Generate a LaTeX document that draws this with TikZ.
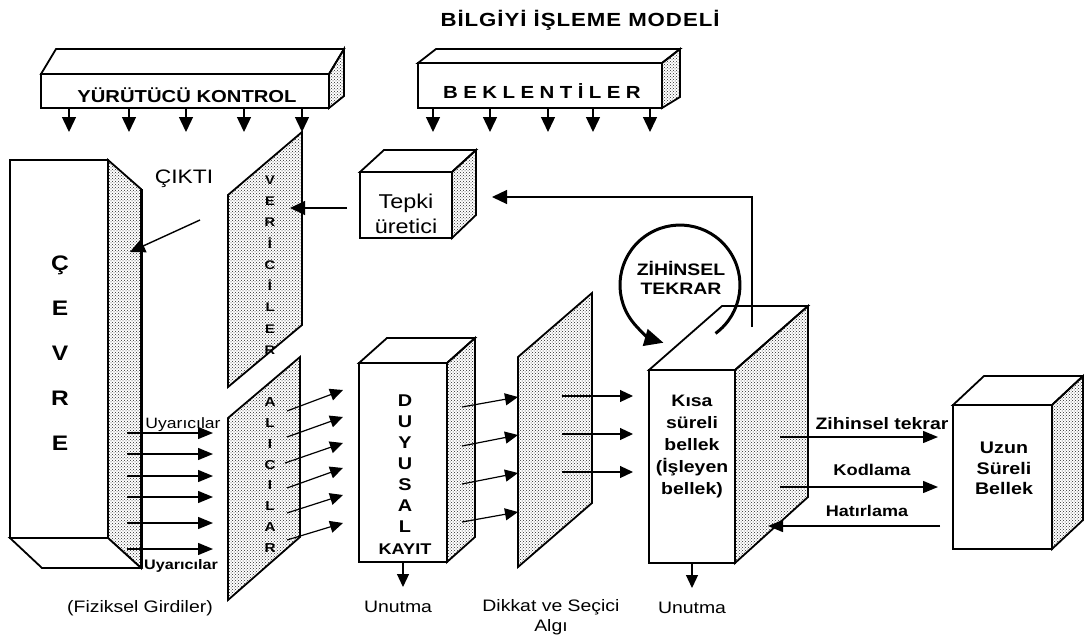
\documentclass[tikz,border=0pt]{standalone}
\usepackage{fontspec}
\setmainfont{Liberation Sans}[FakeStretch=1.17]
\usetikzlibrary{arrows.meta,patterns}

\newcommand\fsz[2]{\fontsize{#1}{#2}\selectfont}
\newcommand\cuboidbox[7]{%
  \filldraw[outl,fill=white] (#1,#2) -- ({#1+#5},{#2+#6}) -- ({#3+#5},{#2+#6}) -- (#3,#2) -- cycle;
  \filldraw[outl,dotfill] (#3,#2) -- ({#3+#5},{#2+#6}) -- ({#3+#5},{#4+#7}) -- (#3,#4) -- cycle;
  \filldraw[outl,fill=white] (#1,#2) rectangle (#3,#4);
}
\newcommand\linkarrow[4][arr]{%
  \coordinate (#2s) at (#3);
  \coordinate (#2e) at (#4);
  \draw[#1] (#2s) -- (#2e);
}

\begin{document}
\begin{tikzpicture}[x=1pt,y=-1pt,
  outl/.style={line width=1.8pt, line join=miter},
  dotfill/.style={pattern=crosshatch dots, pattern color=black!85},
  arr/.style={line width=1.4pt, -{Triangle[length=15pt,width=14pt]}},
  harr/.style={line width=1.4pt, -{Triangle[length=15pt,width=12pt]}},
  sarr/.style={line width=1.2pt, -{Triangle[length=13pt,width=12pt]}},
  t/.style={inner sep=0pt},
  reg/.style={t,font={\fsz{16.6}{20}}},
  bld/.style={t,font={\fsz{16.6}{20}\bfseries}},
]
\useasboundingbox (0,0) rectangle (1084,642);

% title
\node[t,anchor=base,font={\fsz{19}{22}\bfseries\addfontfeatures{LetterSpace=5}}] (title) at (580,27) {BİLGİYİ İŞLEME MODELİ};

% ÇEVRE
\filldraw[outl,dotfill] (108,160) -- (141,189) -- (141,568) -- (108,538) -- cycle;
\filldraw[outl,fill=white] (10,538) -- (108,538) -- (141,568) -- (42,568) -- cycle;
\filldraw[outl,fill=white] (10,160) rectangle (108,538);
\draw[line width=3pt] (141,189) -- (141,568);
\node[t,align=center,font={\fsz{21}{45}\bfseries}] (cevre) at (60,353) {Ç\\E\\V\\R\\E};

% YÜRÜTÜCÜ KONTROL
\cuboidbox{41}{74}{329}{108}{15}{-25}{-12}
\node[t,anchor=base,font={\fsz{17.3}{20}\bfseries}] (yk) at (187,102) {YÜRÜTÜCÜ KONTROL};

% BEKLENTİLER
\cuboidbox{418}{63}{662}{108}{18}{-14}{-11}
\node[t,anchor=base,font={\fsz{17.5}{20}\bfseries\addfontfeatures{LetterSpace=31}}] (bek) at (542,98) {BEKLENTİLER};

% Tepki üretici
\cuboidbox{360}{172}{452}{238}{24}{-22}{-23}
\node[t,align=center,font={\fsz{20}{25}}] (tepki) at (406,213.5) {Tepki\\üretici};

% VERİCİLER panel
\filldraw[outl,dotfill] (228,195) -- (302,132) -- (302,325) -- (228,387) -- cycle;
\node[t,align=center,font={\fsz{12.5}{21.25}\bfseries}] (verici) at (270,265) {V\\E\\R\\İ\\C\\İ\\L\\E\\R};

% ALICILAR panel
\filldraw[outl,dotfill] (228,418) -- (300,357) -- (300,537) -- (228,600) -- cycle;
\node[t,align=center,font={\fsz{13}{20.9}\bfseries}] (alici) at (270,475) {A\\L\\I\\C\\I\\L\\A\\R};

% DUYUSAL KAYIT
\cuboidbox{359}{363}{447}{562}{28}{-25}{-25}
\node[t,align=center,font={\fsz{17}{21}\bfseries}] (duy) at (405,464) {D\\U\\Y\\U\\S\\A\\L};
\node[t,anchor=base,font={\fsz{15.5}{18}\bfseries}] (kayit) at (405,554) {KAYIT};

% DİKKAT panel
\filldraw[outl,dotfill] (518,357) -- (592,293) -- (592,503) -- (518,567) -- cycle;

% Kısa süreli bellek
\cuboidbox{649}{370}{735}{563}{73}{-64}{-66}
\node[t,align=center,font={\fsz{16.6}{22}\bfseries}] (ksb) at (692,447) {Kısa\\süreli\\bellek\\(İşleyen\\bellek)};

% Uzun süreli bellek
\cuboidbox{953}{405}{1052}{549}{31}{-29}{-29}
\node[t,align=center,font={\fsz{16.8}{20.5}\bfseries}] (usb) at (1004,468.5) {Uzun\\Süreli\\Bellek};

% Zihinsel tekrar loop
\coordinate (zts) at (715.5,333.4);
\draw[line width=3pt,-{Triangle[length=19pt,width=17pt]}] (zts) arc[start angle=53.7,end angle=-254,radius=60];
\node[t,align=center,font={\fsz{16.6}{19}\bfseries}] (zt) at (681,278) {ZİHİNSEL\\TEKRAR};

% feedback to Tepki
\coordinate (fba) at (752,327);
\coordinate (fbb) at (752,197);
\coordinate (fbc) at (492,197);
\draw[arr,line width=1.2pt] (fba) -- (fbb) -- (fbc);

% Tepki -> Vericiler
\linkarrow{tv}{347,208}{290,208}

% ÇIKTI
\node[t,anchor=base,font={\fsz{19.5}{22}}] (cikti) at (184,183) {ÇIKTI};
\linkarrow{ck}{200,220}{130,252}

% Yürütücü kontrol arrows
\foreach \x [count=\i] in {69,129,186,244,302} {
  \linkarrow{yka\i}{\x,108}{\x,132}
}
% Beklentiler arrows
\foreach \x [count=\i] in {433,490,548,593,650} {
  \linkarrow{bka\i}{\x,108}{\x,132}
}

% Uyarıcılar
\foreach \y [count=\i] in {433,454,476,497,523,549} {
  \linkarrow[harr]{ua\i}{127,\y}{213,\y}
}
\node[t,anchor=base,font={\fsz{15}{18}}] (uy1) at (183,428) {Uyarıcılar};
\node[t,anchor=base,font={\fsz{13.8}{16}\bfseries}] (uy2) at (181,569) {Uyarıcılar};
\node[reg,anchor=base] (fiz) at (140,612) {(Fiziksel Girdiler)};

% Alıcılar -> Duyusal
\linkarrow[sarr]{ad1}{287,411}{343,390}
\linkarrow[sarr]{ad2}{287,437}{343,417}
\linkarrow[sarr]{ad3}{285,463}{343,443}
\linkarrow[sarr]{ad4}{287,488}{343,468}
\linkarrow[sarr]{ad5}{287,513}{343,495}
\linkarrow[sarr]{ad6}{287,540}{343,523}

% Duyusal -> Dikkat
\linkarrow[sarr]{dd1}{462,407}{518,397}
\linkarrow[sarr]{dd2}{462,446}{518,435}
\linkarrow[sarr]{dd3}{462,484}{518,473}
\linkarrow[sarr]{dd4}{462,522}{518,512}

% Dikkat -> Kısa
\linkarrow[sarr]{dk1}{562,396}{633,396}
\linkarrow[sarr]{dk2}{562,434}{633,434}
\linkarrow[sarr]{dk3}{562,472}{633,472}

% Unutma
\linkarrow[sarr]{un1}{403,562}{403,587}
\node[reg,anchor=base] (unut1) at (398,612) {Unutma};
\linkarrow[sarr]{un2}{692,563}{692,588}
\node[reg,anchor=base] (unut2) at (692,613) {Unutma};

% Dikkat label
\node[t,align=center,font={\fsz{16.6}{20}}] (dik) at (551,617.7) {Dikkat ve Seçici\\Algı};

% Kısa <-> Uzun
\linkarrow[harr]{zh}{780,437}{938,437}
\node[bld,anchor=base] (zhl) at (882,429) {Zihinsel tekrar};
\linkarrow[harr]{kd}{780,487}{938,487}
\node[t,anchor=base,font={\fsz{15.6}{18}\bfseries}] (kdl) at (872,475) {Kodlama};
\linkarrow[harr]{ht}{940,526}{768,526}
\node[t,anchor=base,font={\fsz{15.4}{18}\bfseries}] (htl) at (867,516) {Hatırlama};

\end{tikzpicture}
\end{document}
